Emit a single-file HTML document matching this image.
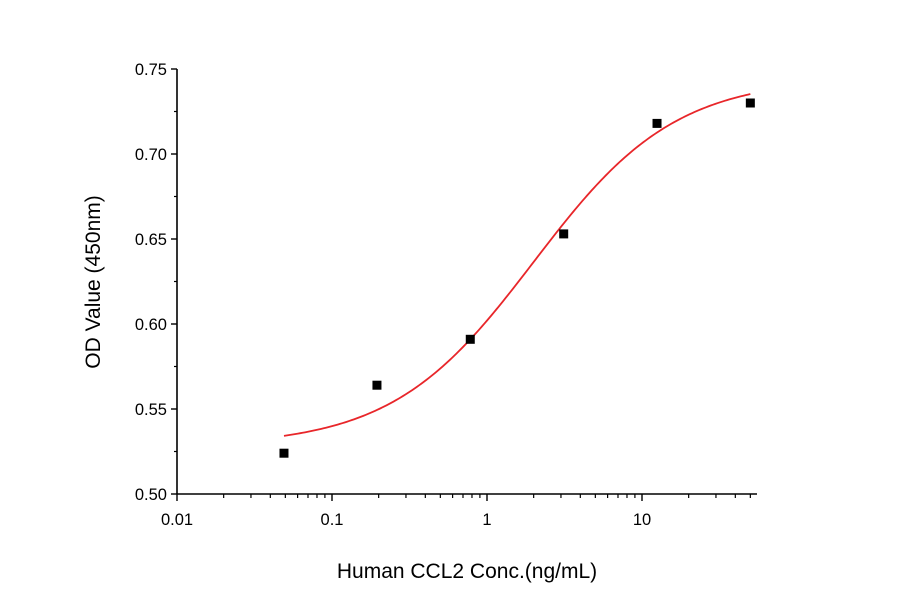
<!DOCTYPE html>
<html><head><meta charset="utf-8"><style>
body{margin:0;background:#fff;font-family:"Liberation Sans",sans-serif;}
svg text{font-family:"Liberation Sans",sans-serif;}
</style></head><body>
<svg id="chart" width="900" height="594" viewBox="0 0 900 594" xmlns="http://www.w3.org/2000/svg">
<rect width="900" height="594" fill="#fff"/>
<g id="axes"></g>
<g id="marks"></g>
<text x="467" y="578" font-size="21" text-anchor="middle">Human CCL2 Conc.(ng/mL)</text>
<text transform="translate(100,282) rotate(-90)" font-size="21" text-anchor="middle">OD Value (450nm)</text>
</svg>
<script>
const concentrations=[0.049,0.195,0.78,3.125,12.5,50];
const odValues=[0.524,0.564,0.591,0.653,0.718,0.730];
const fitBottom=[0.528];
const fitTop=[0.745];
const fitEC50=[2.0];
const fitHill=[0.95];
const yTicks=[0.50,0.55,0.60,0.65,0.70,0.75];
const yTickLabels=["0.50","0.55","0.60","0.65","0.70","0.75"];
const xTicks=[0.01,0.1,1,10];
const xTickLabels=["0.01","0.1","1","10"];

const X0=177,X1=757,Y0=494,Y1=69;
const xMinLog=-2,decade=155;
const xs=v=>X0+(Math.log10(v)-xMinLog)*decade;
const ys=v=>Y0-(v-0.5)/(0.25)*(Y0-Y1);
const NS="http://www.w3.org/2000/svg";
function mk(tag,attrs,parent){const e=document.createElementNS(NS,tag);for(const k in attrs)e.setAttribute(k,attrs[k]);parent.appendChild(e);return e;}
const ax=document.getElementById('axes'),mg=document.getElementById('marks');
let l=mk('line',{x1:X0,y1:Y0,x2:X1,y2:Y0,stroke:'#000','stroke-width':1.6},ax);


l=mk('line',{x1:X0,y1:Y0,x2:X0,y2:Y1,stroke:'#000','stroke-width':1.6},ax);


yTicks.forEach((v,i)=>{
  const y=ys(v);
  mk('line',{x1:X0-6,y1:y,x2:X0,y2:y,stroke:'#000','stroke-width':1.4},ax);
  const t=mk('text',{x:X0-10,y:y+6,'font-size':16.5,'text-anchor':'end'},ax);
  t.textContent=yTickLabels[i];
  
  
  if(i<yTicks.length-1){const ym=ys(v+0.025);mk('line',{x1:X0-3,y1:ym,x2:X0,y2:ym,stroke:'#000','stroke-width':1.2},ax);}
});
xTicks.forEach((v,i)=>{
  const x=xs(v);
  mk('line',{x1:x,y1:Y0,x2:x,y2:Y0+7,stroke:'#000','stroke-width':1.4},ax);
  const t=mk('text',{x:x,y:Y0+31,'font-size':16.5,'text-anchor':'middle'},ax);
  t.textContent=xTickLabels[i];
  
  
  for(let m=2;m<=9;m++){const xm=xs(v*m);if(xm<=X1+1)mk('line',{x1:xm,y1:Y0,x2:xm,y2:Y0+4,stroke:'#000','stroke-width':1.2},ax);}
});
const f=x=>fitTop[0]+(fitBottom[0]-fitTop[0])/(1+Math.pow(x/fitEC50[0],fitHill[0]));
let d='';
const lo=Math.log10(concentrations[0]),hi=Math.log10(concentrations[concentrations.length-1]);
for(let i=0;i<=200;i++){const lx=lo+(hi-lo)*i/200,x=Math.pow(10,lx);d+=(i?'L':'M')+xs(x).toFixed(2)+','+ys(f(x)).toFixed(2);}
const p=mk('path',{d:d,fill:'none',stroke:'#e8262a','stroke-width':1.8},mg);


concentrations.forEach((c,i)=>{
  const r=mk('rect',{x:xs(c)-4.5,y:ys(odValues[i])-4.5,width:9,height:9,fill:'#000'},mg);
  
  
});
</script>
</body></html>
